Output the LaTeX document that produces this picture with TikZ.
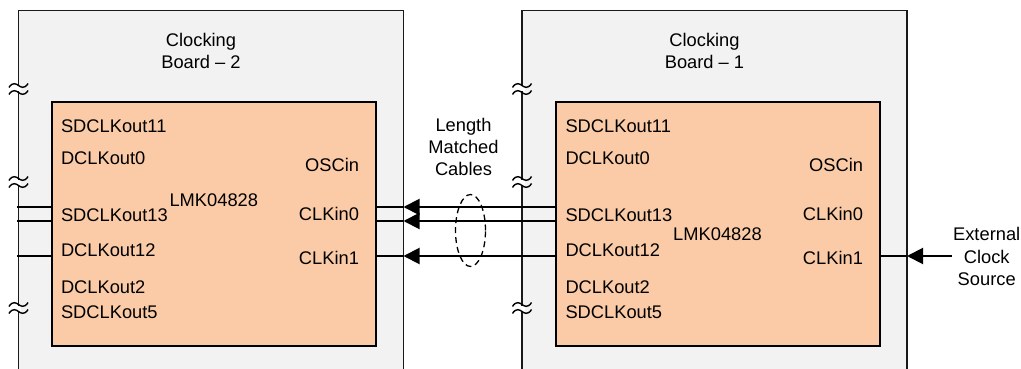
\documentclass[tikz,border=0pt]{standalone}
\usepackage{fontspec}
\setmainfont{Liberation Sans}
\usetikzlibrary{arrows.meta,shapes.geometric}
\definecolor{boardfill}{HTML}{F2F2F2}
\definecolor{chipfill}{HTML}{FACBA6}
\begin{document}
\begin{tikzpicture}[x=1pt,y=-1pt,
  every node/.style={font=\fontsize{18.3}{22}\selectfont, inner sep=0pt, outer sep=0pt},
  board/.style={draw=black!90, line width=1.4pt, fill=boardfill, rectangle, anchor=north west, minimum width=385pt, minimum height=420pt},
  chip/.style={draw=black, line width=2.4pt, fill=chipfill, rectangle, anchor=north west, minimum width=324pt, minimum height=244pt},
  lbl/.style={anchor=base west},
  rlbl/.style={anchor=base east},
  ctr/.style={anchor=base},
  sig/.style={line width=2pt},
  tip/.style={-{Triangle[length=16pt,width=16pt]}},
  brk/.pic={
    \fill[white] (-2.5,-2.5) rectangle (2.5,2.5);
    \draw[line width=1.4pt] (-9.5,-1.5) .. controls (-6,-7.5) and (-2,-5) .. (0,-3.5) .. controls (2,-2) and (6,0.5) .. (9.5,-5.5);
    \draw[line width=1.4pt] (-9.5,5.5) .. controls (-6,-0.5) and (-2,2) .. (0,3.5) .. controls (2,5) and (6,7.5) .. (9.5,1.5);
  }
]
\clip (0,0) rectangle (1021,369);
\fill[white] (0,0) rectangle (1021,369);

% boards
\node[board] (LB) at (18.5,10.7) {};
\node[board] (RB) at (522,10.7) {};

% break marks
\foreach \yy in {89,182,308} {
  \pic at (18.5,\yy) {brk};
  \pic at (522,\yy) {brk};
}

% chips
\node[chip] (LC) at (52,102) {};
\node[chip] (RC) at (556,102) {};

% board titles
\node[ctr] (lt1) at (201,46.7) {Clocking};
\node[ctr] (lt2) at (201,68.3) {Board \textendash{} 2};
\node[ctr] (rt1) at (704.5,46.7) {Clocking};
\node[ctr] (rt2) at (704.5,68.3) {Board \textendash{} 1};

% left chip labels
\node[lbl] (la) at (61,132.7) {SDCLKout11};
\node[lbl] (lb) at (61,164.3) {DCLKout0};
\node[lbl] (lc) at (61,221) {SDCLKout13};
\node[lbl] (ld) at (61,256) {DCLKout12};
\node[lbl] (le) at (61,293) {DCLKout2};
\node[lbl] (lf) at (61,318) {SDCLKout5};
\node[rlbl] (lg) at (359,171) {OSCin};
\node[rlbl] (lh) at (359,220) {CLKin0};
\node[rlbl] (li) at (359,264) {CLKin1};
\node[ctr] (lm) at (213.8,206.7) {LMK04828};

% right chip labels
\node[lbl] (ra) at (565.5,132.7) {SDCLKout11};
\node[lbl] (rb) at (565.5,164.3) {DCLKout0};
\node[lbl] (rc) at (565.5,221) {SDCLKout13};
\node[lbl] (rd) at (565.5,256) {DCLKout12};
\node[lbl] (re) at (565.5,293) {DCLKout2};
\node[lbl] (rf) at (565.5,318) {SDCLKout5};
\node[rlbl] (rg) at (863,171) {OSCin};
\node[rlbl] (rh) at (863,220) {CLKin0};
\node[rlbl] (ri) at (863,264) {CLKin1};
\node[ctr] (rm) at (717.5,240.5) {LMK04828};

% cable label
\node[ctr] (c1) at (463.5,131.7) {Length};
\node[ctr] (c2) at (463.5,153.3) {Matched};
\node[ctr] (c3) at (463.5,175) {Cables};
\node[draw, dash pattern=on 6pt off 4pt, line width=1.3pt, ellipse, minimum width=30pt, minimum height=72pt] (cab) at (470.5,230.5) {};

% external source label
\node[ctr] (e1) at (986.7,240.7) {External};
\node[ctr] (e2) at (986.7,263.3) {Clock};
\node[ctr] (e3) at (986.7,285.7) {Source};

% signal rows
\coordinate (y1) at (17,207);
\coordinate (y2) at (17,221);
\coordinate (y3) at (17,256);
\coordinate (ext) at (952,256);

\foreach \c in {y1,y2,y3} {
  \draw[sig] (LC.west |- \c) -- (\c);
  \draw[sig] (LB.east |- \c) -- (LC.east |- \c);
  \draw[sig,tip] (RC.west |- \c) -- (LB.east |- \c);
}

% external clock
\draw[sig] (RC.east |- y3) -- (RB.east |- y3);
\draw[sig,tip] (ext) -- (RB.east |- y3);
\end{tikzpicture}
\end{document}
